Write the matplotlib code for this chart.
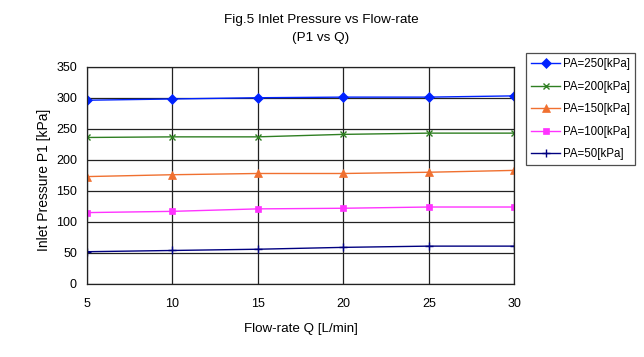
import matplotlib
matplotlib.use("Agg")
import matplotlib.pyplot as plt

plt.rcParams['font.family'] = ['Liberation Sans', 'DejaVu Sans']

flow = [5, 10, 15, 20, 25, 30]
pa250 = [296, 298, 300, 301, 301, 303]
pa200 = [236, 237, 237, 241, 243, 243]
pa150 = [173, 176, 178, 178, 180, 183]
pa100 = [115, 117, 121, 122, 124, 124]
pa50 = [52, 54, 56, 59, 61, 61]

labels = ["PA=250[kPa]", "PA=200[kPa]", "PA=150[kPa]", "PA=100[kPa]", "PA=50[kPa]"]
series = [pa250, pa200, pa150, pa100, pa50]
colors = ["#0022ff", "#2f7f22", "#f07030", "#ff33ff", "#000080"]
markers = ["D", "x", "^", "s", "+"]
msizes = [5, 4.5, 5.5, 4.8, 6]

W, H = 644, 357
fig = plt.figure(figsize=(W / 100, H / 100), dpi=100)
ax = fig.add_axes([86.7 / W, 1 - 284 / H, (514.3 - 86.7) / W, (284 - 66.7) / H])

for y, lab, c, m, ms in zip(series, labels, colors, markers, msizes):
    ax.plot(flow, y, color=c, marker=m, markersize=ms, linewidth=1.0,
            markeredgewidth=1.0 if m in ("x", "+") else 0.5, label=lab)

ax.set_xlim(5, 30)
ax.set_ylim(0, 350)
ax.set_xticks(flow)
ax.set_yticks(range(0, 351, 50))
ax.grid(True, color="#222222", linewidth=0.9)
ax.set_axisbelow(True)
for s in ax.spines.values():
    s.set_color("#222222")
    s.set_linewidth(0.9)
ax.tick_params(length=0, labelsize=9)
ax.tick_params(axis='y', pad=7)
ax.tick_params(axis='x', pad=10)

ax.set_xlabel("Flow-rate Q [L/min]", fontsize=9.6)
ax.xaxis.set_label_coords(0.5, -(329 - 284) / 217.3)
ax.xaxis.label.set_va("center")
ax.set_ylabel("Inlet Pressure P1 [kPa]", fontsize=10)
ax.yaxis.set_label_coords((44 - 86.7) / 427.6, (284 - 180) / 217.3)
ax.yaxis.label.set_va("center")
fig.text(321 / W, 1 - 19.5 / H, "Fig.5 Inlet Pressure vs Flow-rate", ha="center", va="center", fontsize=9.7)
fig.text(321 / W, 1 - 38.5 / H, "(P1 vs Q)", ha="center", va="center", fontsize=9.7)

leg = fig.legend(loc="upper left", bbox_to_anchor=(525.7 / W, 1 - 53.3 / H),
                 fontsize=8.3, frameon=True, fancybox=False, borderaxespad=0,
                 handlelength=2.55, handletextpad=0.25, labelspacing=0.9,
                 borderpad=0.45)
leg.get_frame().set_edgecolor("#222222")
leg.get_frame().set_linewidth(0.9)

fig.savefig("out.png", dpi=100)
